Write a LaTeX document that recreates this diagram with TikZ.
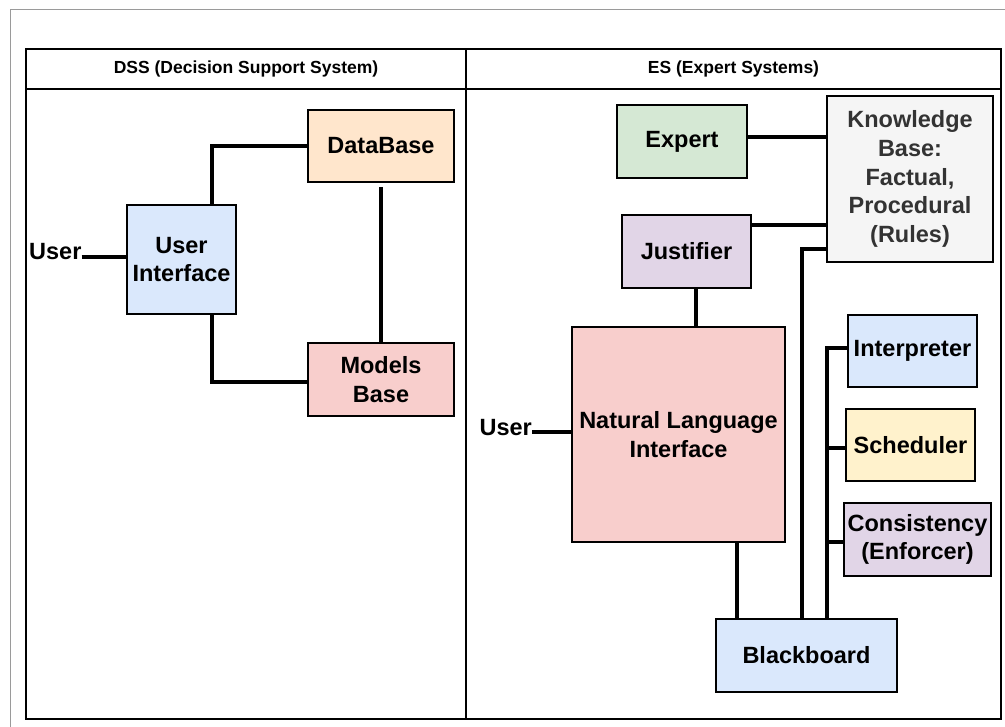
\documentclass[tikz,border=0pt]{standalone}
\usepackage{fontspec}
\setmainfont{Liberation Sans}
\definecolor{cblue}{HTML}{DAE8FC}
\definecolor{corange}{HTML}{FFE6CC}
\definecolor{cred}{HTML}{F8CECC}
\definecolor{cgreen}{HTML}{D5E8D4}
\definecolor{cpurple}{HTML}{E1D5E7}
\definecolor{cyellow}{HTML}{FFF2CC}
\definecolor{cgray}{HTML}{F5F5F5}
\definecolor{ctext}{HTML}{333333}
\definecolor{cframe}{HTML}{9A9A9A}
\tikzset{
  box/.style={draw=black, line width=2pt, rectangle, align=center, inner sep=2pt,
    font=\bfseries\fontsize{23.5}{28.7}\selectfont, text=black},
  conn/.style={line width=4pt},
  lbl/.style={font=\bfseries\fontsize{23.5}{28.7}\selectfont, inner sep=0pt},
  hdr/.style={font=\bfseries\fontsize{17.5}{21}\selectfont, inner sep=0pt},
  tableline/.style={line width=2pt},
}
\begin{document}
\begin{tikzpicture}[x=1pt,y=-1pt]
\useasboundingbox (0,0) rectangle (1005,727);
% outer page frame
\draw[cframe, line width=1pt] (10,727) -- (10,10) -- (1005,10);
% table
\draw[tableline] (26,49) rectangle (1001,719);
\draw[tableline] (26,89) -- (1001,89);
\draw[tableline] (466,49) -- (466,719);
\node[hdr] (h1) at (246,69) {DSS (Decision Support System)};
\node[hdr] (h2) at (733.5,69) {ES (Expert Systems)};

% DSS
\node[box, fill=corange, minimum width=146pt, minimum height=72pt] (db) at (381,146) {DataBase};
\node[box, fill=cblue, minimum width=109pt, minimum height=109pt] (ui) at (181.5,259.5) {User\\Interface};
\node[box, fill=cred, minimum width=146pt, minimum height=73pt] (mb) at (381,379.5) {Models\\Base};
\node[lbl, anchor=base west] (user1) at (29,260) {User};
\draw[conn] ([yshift=3pt]user1.base east) -- ([yshift=3pt]user1.base east -| ui.west);
\draw[conn] ([xshift=-25pt]ui.north east) |- (db.west);
\draw[conn] ([xshift=-25pt]ui.south east) |- ([yshift=-2.5pt]mb.west);
\draw[conn] ([yshift=-4pt]db.south) -- (mb.north);

% ES
\node[box, fill=cgreen, minimum width=130pt, minimum height=73pt] (expert) at (682,141.5) {Expert};
\node[box, fill=cgray, text=ctext, minimum width=166pt, minimum height=166pt] (kb) at (910,179) {Knowledge\\Base:\\Factual,\\Procedural\\(Rules)};
\node[box, fill=cpurple, minimum width=129pt, minimum height=73pt] (just) at (686.5,251.5) {Justifier};
\node[box, fill=cred, minimum width=213pt, minimum height=215pt] (nli) at (678.5,434.5) {Natural Language\\Interface};
\node[box, fill=cblue, minimum width=129pt, minimum height=72pt] (interp) at (912.5,351) {Interpreter};
\node[box, fill=cyellow, minimum width=129pt, minimum height=72pt] (sched) at (910.5,445) {Scheduler};
\node[box, fill=cpurple, minimum width=147pt, minimum height=73pt] (cons) at (917.5,539.5) {Consistency\\(Enforcer)};
\node[box, fill=cblue, minimum width=181pt, minimum height=73pt] (bb) at (806.5,655.5) {Blackboard};
\node[lbl, anchor=base east] (user2) at (532,436) {User};

\coordinate (bus) at ([xshift=20.5pt]bb.north);
\draw[conn] ([yshift=4pt]user2.base east) -- ([yshift=4pt]user2.base east -| nli.west);
\draw[conn] ([yshift=4.5pt]expert.east) -- ([yshift=4.5pt]expert.east -| kb.west);
\draw[conn] ([yshift=-11pt]just.north east) -- ([yshift=-11pt]just.north east -| kb.west);
\draw[conn] ([xshift=9.5pt]just.south) -- ([xshift=9.5pt]just.south |- nli.north);
\draw[conn] ([yshift=14pt]kb.south west) -| ([xshift=-4.5pt]bb.north);
\draw[conn] ([yshift=3pt]interp.west) -| (bus);
\draw[conn] ([yshift=-3pt]sched.west) -- ([yshift=-3pt]sched.west -| bus);
\draw[conn] ([yshift=-2.5pt]cons.west) -- ([yshift=-2.5pt]cons.west -| bus);
\draw[conn] ([xshift=58.5pt]nli.south) -- ([xshift=58.5pt]nli.south |- bb.north);
\end{tikzpicture}
\end{document}
